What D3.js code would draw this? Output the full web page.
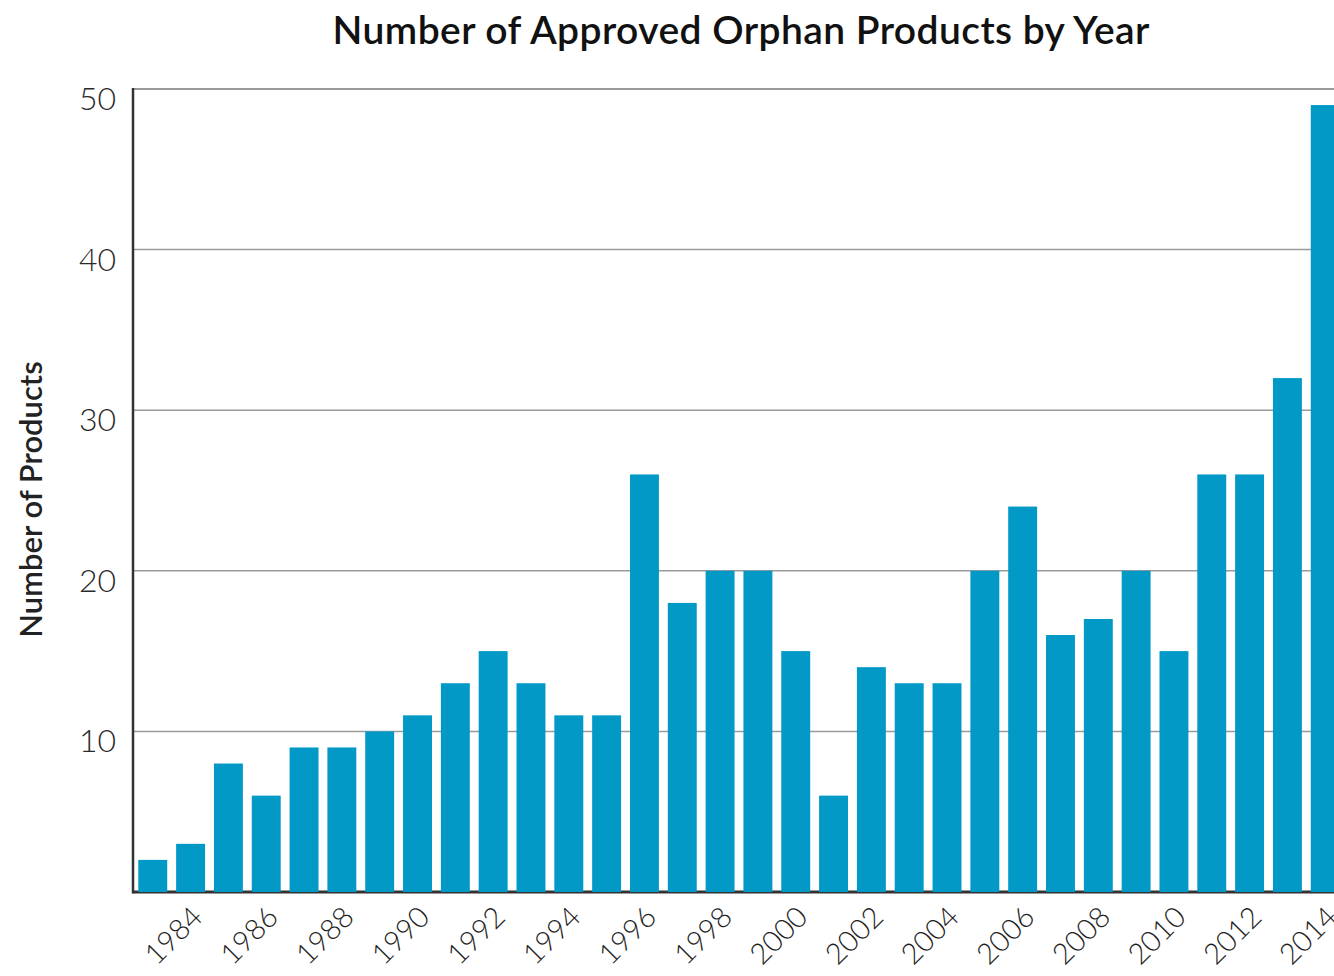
<!DOCTYPE html>
<html>
<head>
<meta charset="utf-8">
<script src="https://cdn.jsdelivr.net/npm/d3@7"></script>
<style>
  html, body { margin: 0; padding: 0; background: #fff; overflow: hidden; }
  svg { display: block; font-family: Lato, "Open Sans", sans-serif; }
</style>
</head>
<body>
<script>
// Orphan products approved per year
const years = [1983, 1984, 1985, 1986, 1987, 1988, 1989, 1990, 1991, 1992,
               1993, 1994, 1995, 1996, 1997, 1998, 1999, 2000, 2001, 2002,
               2003, 2004, 2005, 2006, 2007, 2008, 2009, 2010, 2011, 2012,
               2013, 2014];
const approvals = [2, 3, 8, 6, 9, 9, 10, 11, 13, 15,
                   13, 11, 11, 26, 18, 20, 20, 15, 6, 14,
                   13, 13, 20, 24, 16, 17, 20, 15, 26, 26,
                   32, 49];
const yTicks = [10, 20, 30, 40, 50];
const xLabelYears = [1984, 1986, 1988, 1990, 1992, 1994, 1996, 1998, 2000,
                     2002, 2004, 2006, 2008, 2010, 2012, 2014];

const W = 1334, H = 976;
const margin = { left: 133, top: 89, bottom: 84 };
const plotRight = 1345;

const svg = d3.select("body").append("svg")
  .attr("width", W).attr("height", H);

const x = d3.scaleBand()
  .domain(years)
  .range([margin.left, plotRight])
  .paddingInner(0.235)
  .paddingOuter(0.14);

const y = d3.scaleLinear()
  .domain([0, 50])
  .range([H - margin.bottom, margin.top]);

// horizontal grid lines
svg.append("g")
  .selectAll("line")
  .data(yTicks)
  .join("line")
  .attr("x1", margin.left).attr("x2", plotRight)
  .attr("y1", d => y(d)).attr("y2", d => y(d))
  .attr("stroke", "#9a9a9a")
  .attr("stroke-width", d => d === 50 ? 2 : 1.5);

// axis baseline (sits under the bars)
svg.append("line")
  .attr("x1", margin.left).attr("x2", plotRight)
  .attr("y1", y(0)).attr("y2", y(0))
  .attr("stroke", "#333").attr("stroke-width", 3);

// bars
svg.append("g")
  .selectAll("rect")
  .data(years)
  .join("rect")
  .attr("x", d => x(d))
  .attr("width", x.bandwidth())
  .attr("y", (d, i) => y(approvals[i]))
  .attr("height", (d, i) => y(0) - y(approvals[i]))
  .attr("fill", "#0299c7");

// left axis line
svg.append("line")
  .attr("x1", margin.left).attr("x2", margin.left)
  .attr("y1", y(50) - 1).attr("y2", y(0) + 1.5)
  .attr("stroke", "#333").attr("stroke-width", 2.5);

// y tick labels
svg.append("g")
  .selectAll("text")
  .data(yTicks)
  .join("text")
  .attr("x", 116)
  .attr("y", d => y(d) + 21)
  .attr("text-anchor", "end")
  .attr("font-size", 32)
  .attr("font-weight", 300)
  .attr("fill", "#2a2a2a")
  .text(d => d);

// x tick labels, rotated
svg.append("g")
  .selectAll("text")
  .data(xLabelYears)
  .join("text")
  .attr("transform", d => `translate(${x(d) + x.bandwidth() / 2 - 1},${y(0) + 12}) rotate(-45)`)
  .attr("text-anchor", "end")
  .attr("dy", "0.72em")
  .attr("font-size", 29)
  .attr("font-weight", 300)
  .attr("fill", "#1e1e1e")
  .text(d => d);

// title
svg.append("text")
  .attr("x", 741)
  .attr("y", 44)
  .attr("text-anchor", "middle")
  .attr("font-size", 39)
  .attr("font-weight", 600)
  .attr("fill", "#111")
  .attr("textLength", 817)
  .attr("lengthAdjust", "spacing")
  .text("Number of Approved Orphan Products by Year");

// y axis title
svg.append("text")
  .attr("transform", `translate(42,${(y(0) + y(50)) / 2 + 9}) rotate(-90)`)
  .attr("text-anchor", "middle")
  .attr("font-size", 31)
  .attr("font-weight", 600)
  .attr("fill", "#222")
  .text("Number of Products");
</script>
</body>
</html>
